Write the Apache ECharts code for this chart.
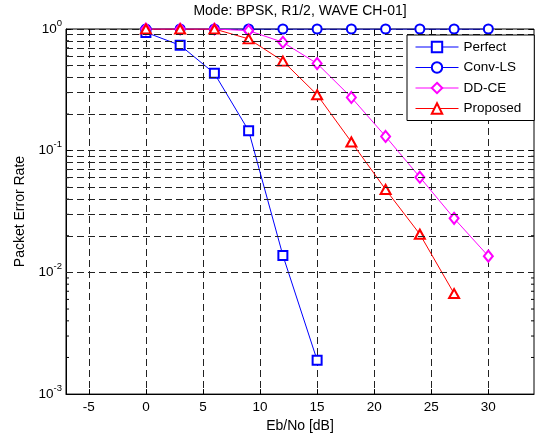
<!DOCTYPE html>
<html>
<head>
<meta charset="utf-8">
<script src="https://cdn.jsdelivr.net/npm/echarts@6/dist/echarts.min.js"></script>
<style>html,body{margin:0;padding:0;background:#fff}#c{width:535px;height:438px}</style>
</head>
<body>
<div id="c"></div>
<script>
var ebno = [0, 3, 6, 9, 12, 15, 18, 21, 24, 27, 30];
var perfect = [0.938, 0.735, 0.432, 0.146, 0.0138, 0.0019];
var convLS = [1, 1, 1, 1, 1, 1, 1, 1, 1, 1, 1];
var ddce = [1, 1, 1, 0.97, 0.778, 0.52, 0.274, 0.131, 0.0606, 0.0278, 0.0136];
var proposed = [1, 1, 1, 0.83, 0.545, 0.288, 0.118, 0.048, 0.0206, 0.0067];
var xTicks = [-5, 0, 5, 10, 15, 20, 25, 30];
var minorY = [0.002,0.003,0.004,0.005,0.006,0.007,0.008,0.009,
              0.02,0.03,0.04,0.05,0.06,0.07,0.08,0.09,
              0.2,0.3,0.4,0.5,0.6,0.7,0.8,0.9];
var xMin = -7, xMax = 34, yMin = 0.001, yMax = 1;

function pairs(xs, ys) { return ys.map(function (v, i) { return [xs[i], v]; }); }

var FONT = 'Liberation Sans, Arial, sans-serif';
var gridDash = { color: '#222', width: 1, type: [7, 4] };

var chart = echarts.init(document.getElementById('c'), null, { renderer: 'canvas' });
chart.setOption({
  animation: false,
  backgroundColor: '#fff',
  textStyle: { fontFamily: FONT },
  title: {
    text: 'Mode: BPSK, R1/2, WAVE CH-01]',
    left: 300, top: 4, textAlign: 'center', padding: 0,
    textStyle: { fontSize: 14, fontWeight: 'normal', color: '#000', fontFamily: FONT }
  },
  grid: { left: 66, top: 29, right: 1, bottom: 41, show: true, borderColor: '#000', borderWidth: 1, backgroundColor: 'transparent' },
  legend: {
    orient: 'vertical',
    left: 407, top: 35, z: 100,
    padding: [5, 13, 5, 8],
    itemWidth: 43, itemHeight: 13, itemGap: 6.5,
    backgroundColor: '#fff', borderColor: '#000', borderWidth: 1,
    lineStyle: { width: 1 },
    itemStyle: { borderWidth: 1 },
    textStyle: { fontSize: 13.5, color: '#000', fontFamily: FONT },
    data: ['Perfect', 'Conv-LS', 'DD-CE', 'Proposed']
  },
  xAxis: [{
    type: 'value', min: xMin, max: xMax,
    name: 'Eb/No [dB]', nameLocation: 'middle', nameGap: 22,
    nameTextStyle: { fontSize: 14, color: '#000', fontFamily: FONT },
    axisLine: { show: true, onZero: false, lineStyle: { color: '#000', width: 1 } },
    axisTick: { show: true, inside: true, length: 5, customValues: xTicks, lineStyle: { color: '#000' } },
    axisLabel: { customValues: xTicks, color: '#000', fontSize: 13.5, margin: 6, fontFamily: FONT },
    splitLine: { show: true, lineStyle: gridDash }
  }, {
    type: 'value', min: xMin, max: xMax, position: 'top',
    axisLine: { show: false, onZero: false },
    axisTick: { show: true, inside: true, length: 5, customValues: xTicks, lineStyle: { color: '#000' } },
    axisLabel: { show: false },
    splitLine: { show: false }
  }],
  yAxis: [{
    type: 'log', logBase: 10, min: yMin, max: yMax,
    name: 'Packet Error Rate', nameLocation: 'middle', nameGap: 37,
    nameTextStyle: { fontSize: 14, color: '#000', fontFamily: FONT },
    axisLine: { show: true, onZero: false, lineStyle: { color: '#000', width: 1 } },
    axisTick: { show: true, inside: true, length: 5, lineStyle: { color: '#000' } },
    axisLabel: {
      margin: 4, color: '#000',
      formatter: function (v) {
        var e = Math.round(Math.log10(v));
        return '{b|10}{s|' + e + '}';
      },
      rich: {
        b: { fontSize: 13.5, color: '#000', fontFamily: FONT },
        s: { fontSize: 9.5, color: '#000', fontFamily: FONT, padding: [0, 0, 12, 0] }
      }
    },
    splitLine: { show: true, lineStyle: gridDash }
  }, {
    type: 'log', logBase: 10, min: yMin, max: yMax, position: 'right',
    axisLine: { show: false, onZero: false },
    axisTick: { show: true, inside: true, length: 5, lineStyle: { color: '#000' } },
    axisLabel: { show: false },
    splitLine: { show: false }
  }],
  series: [
    {
      name: 'minorTicks', type: 'custom', silent: true, clip: false, z: 3,
      data: minorY.map(function (v) { return [xMin, v]; }),
      renderItem: function (params, api) {
        var y = api.value(1);
        var p = api.coord([xMin, y]);
        var q = api.coord([xMax, y]);
        var st = { stroke: '#000', lineWidth: 1 };
        return { type: 'group', children: [
          { type: 'line', shape: { x1: p[0], y1: p[1], x2: p[0] + 3, y2: p[1] }, style: st },
          { type: 'line', shape: { x1: q[0], y1: q[1], x2: q[0] - 3, y2: q[1] }, style: st }
        ] };
      },
      markLine: {
        silent: true, symbol: ['none', 'none'], label: { show: false },
        lineStyle: gridDash, animation: false,
        data: minorY.map(function (v) { return { yAxis: v }; })
      }
    },
    {
      name: 'Perfect', type: 'line', data: pairs(ebno, perfect),
      symbol: 'emptyRect', symbolSize: 9,
      lineStyle: { color: '#0000ff', width: 1 }, itemStyle: { color: '#0000ff' }, z: 4
    },
    {
      name: 'Conv-LS', type: 'line', data: pairs(ebno, convLS),
      symbol: 'emptyCircle', symbolSize: 9,
      lineStyle: { color: '#0000ff', width: 1 }, itemStyle: { color: '#0000ff' }, z: 4
    },
    {
      name: 'DD-CE', type: 'line', data: pairs(ebno, ddce),
      symbol: 'emptyDiamond', symbolSize: [9, 11],
      lineStyle: { color: '#ff00ff', width: 1 }, itemStyle: { color: '#ff00ff' }, z: 4
    },
    {
      name: 'Proposed', type: 'line', data: pairs(ebno, proposed),
      symbol: 'emptyTriangle', symbolSize: [10, 9],
      lineStyle: { color: '#ff0000', width: 1 }, itemStyle: { color: '#ff0000' }, z: 4
    }
  ]
});
</script>
</body>
</html>
